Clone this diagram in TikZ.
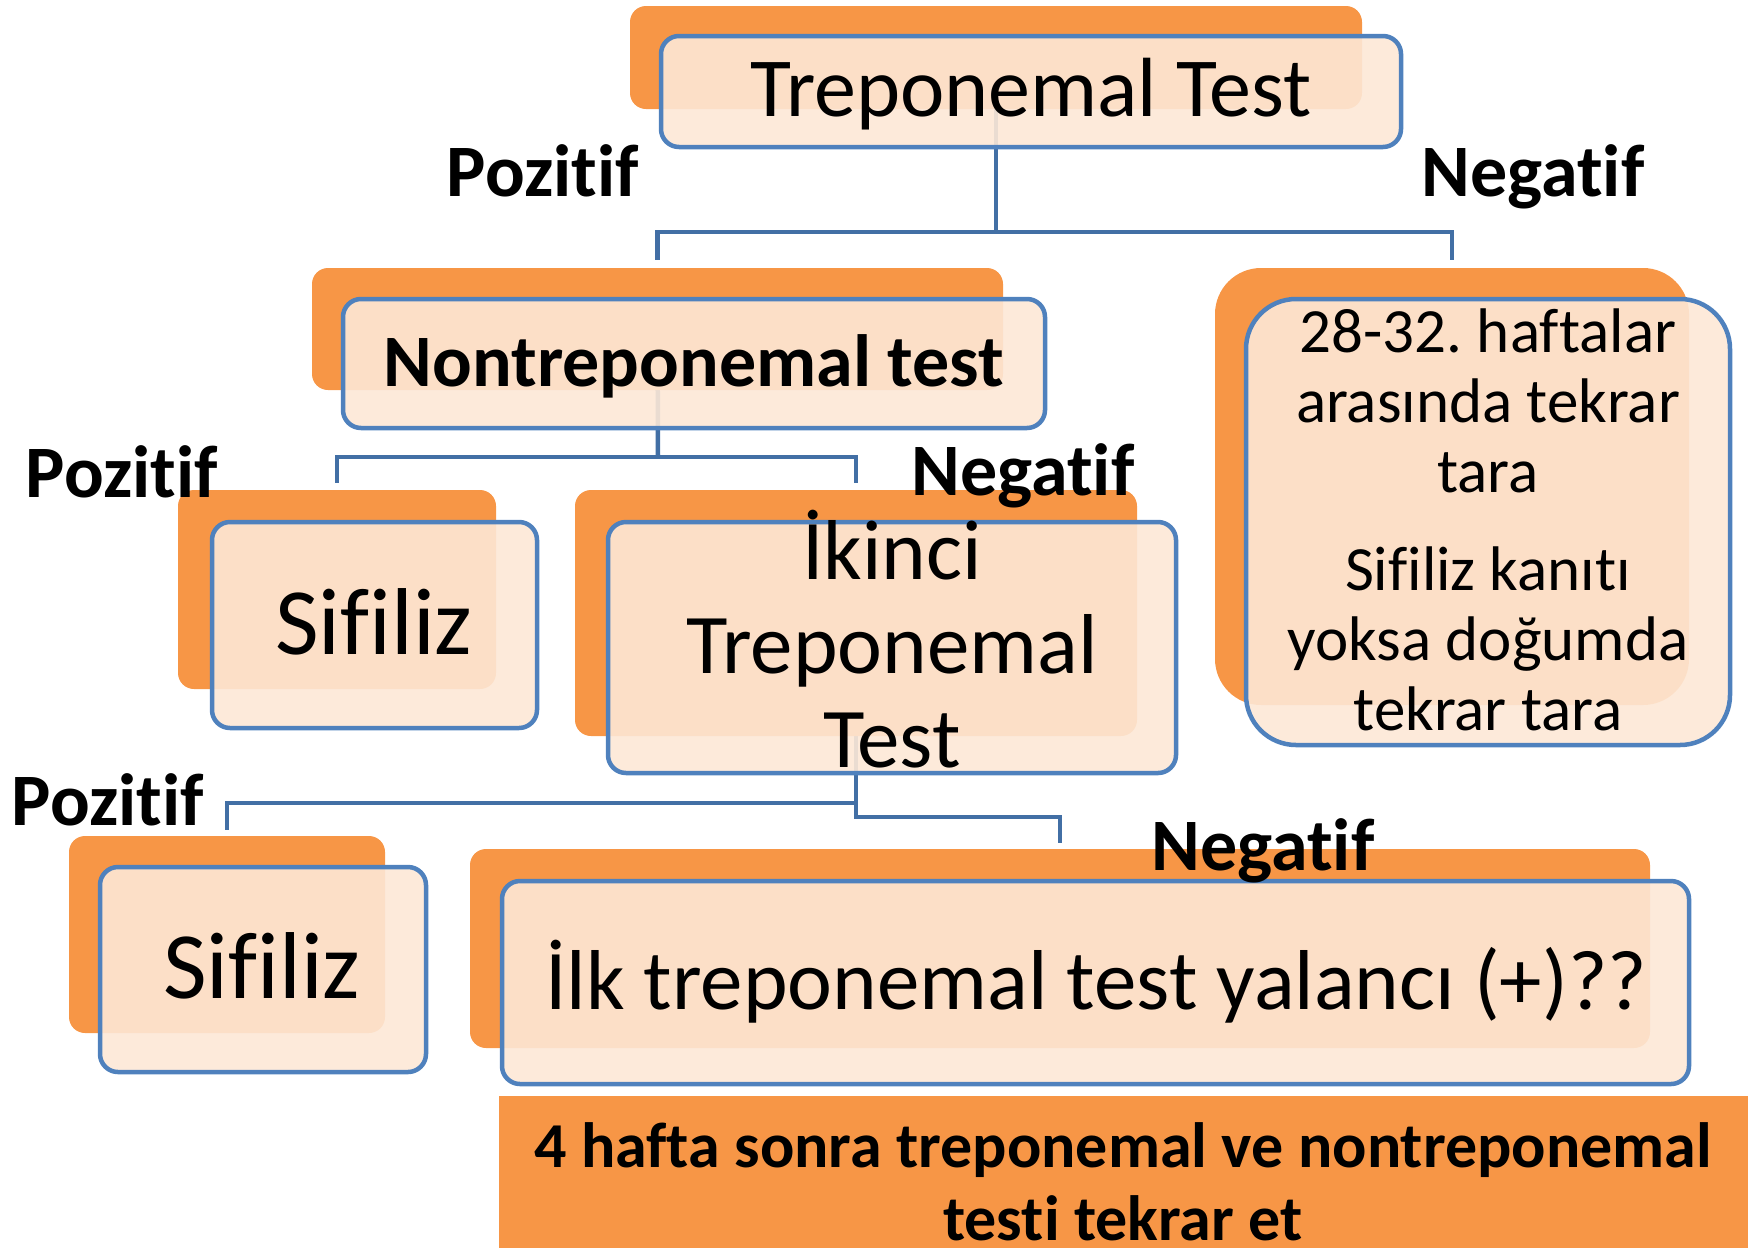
\documentclass[tikz,border=0pt]{standalone}
\usepackage{fontspec}
\setmainfont{Carlito}[Ligatures={TeX,NoCommon}]
\usetikzlibrary{backgrounds}
\frenchspacing

\definecolor{accorange}{RGB}{247,150,70}
\definecolor{boxfill}{RGB}{253,232,214}
\definecolor{boxline}{RGB}{79,129,189}
\definecolor{linkblue}{RGB}{66,111,165}

\begin{document}
\begin{tikzpicture}[
    x=1pt, y=-1pt,
    back/.style={fill=accorange, rounded corners=16pt, inner sep=0pt},
    front/.style={fill=boxfill, fill opacity=0.9, draw=boxline, line width=4.5pt, rounded corners=18pt, inner sep=0pt},
    boxtext/.style={anchor=base, inner sep=0pt, align=center},
    branch/.style={anchor=base, inner sep=0pt, font=\fontsize{74}{80}\selectfont\bfseries},
    link/.style={draw=linkblue, line width=4.5pt}
]
\useasboundingbox (0,0) rectangle (1748,1248);

\node[back, minimum width=732pt, minimum height=103pt] (topB) at (996,57.5) {};
\node[back, minimum width=691pt, minimum height=122pt] (ntB) at (657.5,329) {};
\node[back, minimum width=474pt, minimum height=437pt, rounded corners=46pt] (rtB) at (1452,486.5) {};
\node[back, minimum width=318pt, minimum height=199pt] (sf1B) at (337,589.5) {};
\node[back, minimum width=562pt, minimum height=246pt] (ikB) at (856,613) {};
\node[back, minimum width=316pt, minimum height=197pt] (sf2B) at (227,934.5) {};
\node[back, minimum width=1180pt, minimum height=199pt] (ilkB) at (1060,948.5) {};

\node[front, minimum width=740pt, minimum height=111pt] (top) at (1031,91.5) {};
\node[front, minimum width=702pt, minimum height=129pt] (nt) at (694,363.5) {};
\node[front, minimum width=484pt, minimum height=446pt, rounded corners=50pt] (rt) at (1488,522) {};
\node[front, minimum width=325pt, minimum height=206pt] (sf1) at (374.5,625) {};
\node[front, minimum width=568pt, minimum height=251pt] (ik) at (892,647.5) {};
\node[front, minimum width=326pt, minimum height=205pt] (sf2) at (263,969.5) {};
\node[front, minimum width=1187pt, minimum height=203pt] (ilk) at (1095.5,982.5) {};
\node[fill=accorange, inner sep=0pt, minimum width=1249pt, minimum height=152pt] (rep) at (1123.5,1172) {};

\node[boxtext, font=\fontsize{84}{94}\selectfont] (topT) at (1031,116) {Treponemal Test};
\node[boxtext, font=\fontsize{74}{80}\selectfont\bfseries] (ntT) at (694,386) {Nontreponemal test};
\node[boxtext, font=\fontsize{63}{70}\selectfont] (rtT) at (1488,730)
    {28-32. haftalar\\arasında tekrar\\tara\\[28pt]Sifiliz kanıtı\\yoksa doğumda\\tekrar tara};
\node[boxtext, font=\fontsize{95}{100}\selectfont] (sf1T) at (374,654) {Sifiliz};
\node[boxtext, font=\fontsize{85}{94}\selectfont] (ikT) at (892,767) {İkinci\\Treponemal\\Test};
\node[boxtext, font=\fontsize{95}{100}\selectfont] (sf2T) at (262,998) {Sifiliz};
\node[boxtext, font=\fontsize{85}{94}\selectfont] (ilkT) at (1096,1009) {İlk treponemal test yalancı (+)??};
\node[boxtext, font=\fontsize{64}{73}\selectfont\bfseries] (repT) at (1123,1240)
    {4 hafta sonra treponemal ve nontreponemal\\testi tekrar et};

\node[branch] (pos1) at (543,196) {Pozitif};
\node[branch] (neg1) at (1533,196) {Negatif};
\node[branch] (pos2) at (122,497) {Pozitif};
\node[branch] (neg2) at (1023,495) {Negatif};
\node[branch] (pos3) at (108,825) {Pozitif};
\node[branch] (neg3) at (1263,870) {Negatif};

\coordinate (j1) at (996,232);
\coordinate (j2) at (658,457);
\coordinate (j3) at (856,803);
\coordinate (j4) at (856,817);

\begin{pgfonlayer}{background}
\draw[link] (topB.center) -- (j1);
\draw[link] ([yshift=8pt]ntB.north) |- (j1) -| ([yshift=8pt]rtB.north);
\draw[link] (ntB.center) -- (j2);
\draw[link] ([yshift=7pt]sf1B.north) |- (j2) -| ([yshift=7pt]ikB.north);
\draw[link] (ikB.center) -- (j4) -| ([yshift=6pt]ilkB.north);
\draw[link] (j3) -| ([yshift=6pt]sf2B.north);
\end{pgfonlayer}
\end{tikzpicture}
\end{document}
